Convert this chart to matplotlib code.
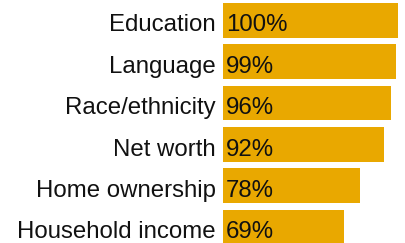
import matplotlib
matplotlib.use("Agg")
import matplotlib.pyplot as plt

categories = ["Education", "Language", "Race/ethnicity", "Net worth",
              "Home ownership", "Household income"]
values = [100, 99, 96, 92, 78, 69]

plt.rcParams['font.family'] = ['Liberation Sans', 'DejaVu Sans']

fig = plt.figure(figsize=(4.05, 2.43), dpi=100)
ax = fig.add_axes([223 / 405, 0, 175 / 405, 1])

ypos = list(range(len(values)))
ax.barh(ypos, values, height=0.84, color='#E9A800', align='center')
ax.set_xlim(0, 100)
ax.set_ylim(5.38, -0.489)

for y, v, c in zip(ypos, values, categories):
    ax.text(-4.0, y + 0.27, c, ha='right', va='baseline', fontsize=17.3,
            color='#111111', clip_on=False)
    ax.text(1.5, y + 0.27, f"{v}%", ha='left', va='baseline', fontsize=17.3,
            color='#111111')

ax.axis('off')
fig.savefig("out.png", dpi=100)
